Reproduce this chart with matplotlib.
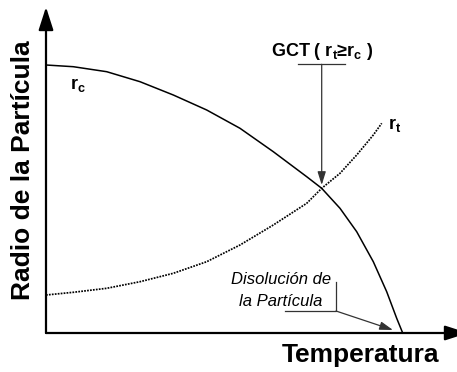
import matplotlib
matplotlib.use("Agg")
import matplotlib.pyplot as plt

# curve data (temperature, particle radius) in arbitrary units
rc_temp = [0, 27.3, 60.7, 94, 127.3, 160.7, 194, 227.3, 260.7, 275.7,
           294, 310.7, 327.3, 340.7, 350.7, 356.7]
rc_radius = [268, 266.3, 261.3, 251.3, 238, 223, 204.7, 181.3, 156.3, 144.7,
             124.7, 101.3, 71.3, 41.3, 14.7, 0]
rt_temp = [0, 27.3, 60.7, 94, 127.3, 160.7, 194, 227.3, 260.7, 275.7,
           294, 310.7, 327.3, 335.7]
rt_radius = [38, 40.7, 44.7, 51.3, 59.7, 71.3, 88, 108, 129.7, 144.7,
             159.7, 178, 198, 209.7]

gct_point = (275.7, 148)
dissolution_point = (347, 3)

plt.rcParams['mathtext.fontset'] = 'custom'
plt.rcParams['mathtext.rm'] = 'Liberation Sans'
plt.rcParams['mathtext.bf'] = 'Liberation Sans:bold'
plt.rcParams['mathtext.it'] = 'Liberation Sans:italic'

narrow = ['Liberation Sans Narrow', 'Liberation Sans', 'DejaVu Sans']
sans = ['Liberation Sans', 'DejaVu Sans']

fig = plt.figure(figsize=(4.57, 3.72), dpi=100)
ax = fig.add_axes([46 / 457, 39 / 372, 411 / 457, 333 / 372])
ax.set_xlim(0, 411)
ax.set_ylim(0, 333)
ax.axis('off')

# axes with arrow heads
ax.annotate('', xy=(0, 326), xytext=(0, 0), annotation_clip=False,
            arrowprops=dict(arrowstyle='-|>,head_length=1.4,head_width=0.45',
                            lw=1.6, color='black', shrinkA=0, shrinkB=0))
ax.annotate('', xy=(422, 0), xytext=(0, 0), annotation_clip=False,
            arrowprops=dict(arrowstyle='-|>,head_length=1.4,head_width=0.45',
                            lw=1.6, color='black', shrinkA=0, shrinkB=0))

# curves
ax.plot(rc_temp, rc_radius, color='black', lw=1.1, solid_capstyle='butt',
        solid_joinstyle='round')
ax.plot(rt_temp, rt_radius, color='black', lw=1.25, linestyle=(0, (1.0, 0.7)))

ax.text(24, 248, r'r$_\mathbf{c}$', fontsize=13, fontweight='bold',
        family=narrow, ha='left', va='center')
ax.text(342, 208, r'r$_\mathbf{t}$', fontsize=13, fontweight='bold',
        family=narrow, ha='left', va='center')

# GCT marker
ax.plot([252, 299], [268.7, 268.7], color='#333333', lw=0.9)
ax.annotate('', xy=gct_point, xytext=(gct_point[0], 268.7),
            arrowprops=dict(arrowstyle='-|>,head_length=0.8,head_width=0.25',
                            lw=0.9, color='#333333', shrinkA=0, shrinkB=0))
ax.text(276, 282, 'GCT ( r$_\\mathbf{t}$\u2265r$_\\mathbf{c}$ )', fontsize=13,
        fontweight='bold', family=narrow, ha='center', va='center')

# dissolution marker
ax.text(235, 53, 'Disolución de', fontsize=12, style='italic',
        family=narrow, ha='center', va='center')
ax.text(235, 31, 'la Partícula', fontsize=12, style='italic',
        family=narrow, ha='center', va='center')
ax.plot([239, 290, 290], [22, 22, 51], color='#333333', lw=0.9)
ax.annotate('', xy=dissolution_point, xytext=(290, 22),
            arrowprops=dict(arrowstyle='-|>,head_length=0.8,head_width=0.25',
                            lw=0.9, color='#333333', shrinkA=0, shrinkB=0))

# axis titles
ax.text(314, -22, 'Temperatura', fontsize=19, fontweight='bold',
        family=narrow, ha='center', va='center', clip_on=False)
ax.text(-23, 163, 'Radio de la Partícula', fontsize=19, fontweight='bold',
        family=sans, rotation=90, ha='center', va='center', clip_on=False)

fig.savefig('out.png', dpi=100)
